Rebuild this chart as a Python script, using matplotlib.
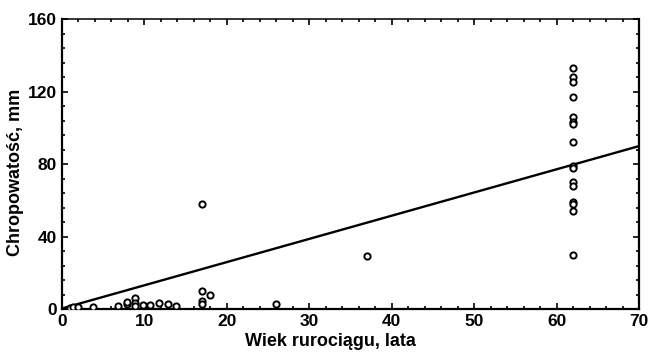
import matplotlib
matplotlib.use("Agg")
import matplotlib.pyplot as plt
from matplotlib.ticker import MultipleLocator

age = [62]*16 + [17, 37, 26, 17, 17, 17, 18,
       1, 1.3, 3.8, 6.8, 7.85, 7.85, 8.9, 8.9, 8.9, 9.8, 10.7, 11.8, 12.9, 13.8, 2]
rough = [133, 128, 125, 117, 106, 103, 102, 92, 79, 78, 70, 68, 59, 58, 54, 30,
         58, 29, 3, 10, 4.6, 2.8, 7.7,
         0.7, 1.2, 0.9, 1.6, 2.8, 4, 5.9, 3.5, 1.7, 2.2, 2.2, 3.1, 2.8, 1.6, 1.0]
fit_intercept = 0.3
fit_slope = 1.28
fit_x = [0, 70]

plt.rcParams['font.family'] = ['Liberation Sans', 'DejaVu Sans']
fig = plt.figure(figsize=(6.5, 3.53), dpi=100)
ax = fig.add_axes([0.0954, 0.1246, 0.8877, 0.8214])

ax.plot(age, rough, linestyle='none', marker='o', markersize=4.5,
        markerfacecolor='white', markeredgecolor='black', markeredgewidth=1.4, zorder=3)
ax.plot(fit_x, [fit_intercept + fit_slope * x for x in fit_x], color='black', lw=1.7, zorder=2)

ax.set_xlim(0, 70)
ax.set_ylim(0, 160)
ax.xaxis.set_major_locator(MultipleLocator(10))
ax.xaxis.set_minor_locator(MultipleLocator(2))
ax.yaxis.set_major_locator(MultipleLocator(40))
ax.yaxis.set_minor_locator(MultipleLocator(8))
ax.tick_params(which='both', direction='in', top=True, right=True, labelsize=12.5, width=1.2)
ax.tick_params(which='major', length=4)
ax.tick_params(which='minor', length=2.5)
for lbl in ax.get_xticklabels() + ax.get_yticklabels():
    lbl.set_fontweight('bold')
for s in ax.spines.values():
    s.set_linewidth(1.6)
ax.spines['top'].set_linewidth(1.1)

ax.set_xlabel('Wiek rurociągu, lata', fontsize=13, fontweight='bold')
ax.xaxis.set_label_coords(0.466, -0.082)
ax.xaxis.label.set_va('top')
ax.set_ylabel('Chropowatość, mm', fontsize=13, fontweight='bold')
ax.yaxis.set_label_coords(-0.066, 0.472)

fig.savefig('out.png', dpi=100)
